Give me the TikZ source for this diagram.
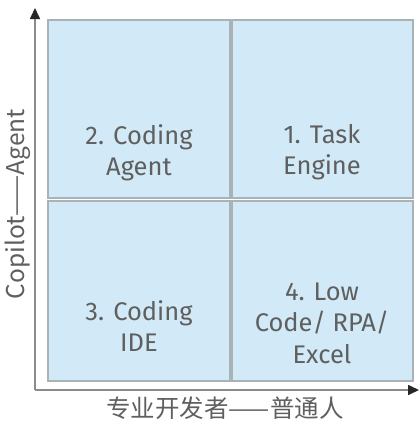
\documentclass[tikz,border=0pt]{standalone}
\usepackage{fontspec}
\setmainfont{Fira Sans}
\newfontfamily\cjk{Noto Sans CJK SC}
\usetikzlibrary{arrows.meta}
\definecolor{boxfill}{HTML}{D2EAF7}
\definecolor{boxline}{HTML}{A9B2B6}
\definecolor{txt}{HTML}{5F5F5F}
\definecolor{axis}{HTML}{8C8C8C}
\tikzset{
  quad/.style={draw=boxline, line width=2.2pt, fill=boxfill},
  qtext/.style={text=txt, align=center, font=\fontsize{25.5}{31.5}\selectfont},
  axisline/.style={draw=axis, line width=1.6pt, -{Triangle[length=11pt,width=10pt,fill=black!85,color=black!85]}},
  alabel/.style={text=txt, font=\cjk\fontsize{24.5}{28}\selectfont}
}
\begin{document}
\begin{tikzpicture}[x=1pt,y=-1pt]
\useasboundingbox (0,0) rectangle (420,426);
\draw[quad] (48,20) rectangle (230,198);
\draw[quad] (232,20) rectangle (413,198);
\draw[quad] (48,201) rectangle (230,381);
\draw[quad] (232,201) rectangle (413,381);
\node[qtext] (q2) at (139,153) {2. Coding\\Agent};
\node[qtext] (q1) at (322,152) {1. Task\\Engine};
\node[qtext] (q3) at (139,326) {3. Coding\\IDE};
\node[qtext] (q4) at (322,323) {4. Low\\Code/ RPA/\\Excel};
\coordinate (o) at (35,390);
\coordinate (yt) at (35,8);
\coordinate (xt) at (419,390);
\draw[axisline] (o) -- (yt);
\draw[axisline] (o) -- (xt);
\node[alabel, rotate=90] (yl) at (18,204) {Copilot——Agent};
\node[alabel] (xl) at (225,408) {专业开发者——普通人};
\end{tikzpicture}
\end{document}
